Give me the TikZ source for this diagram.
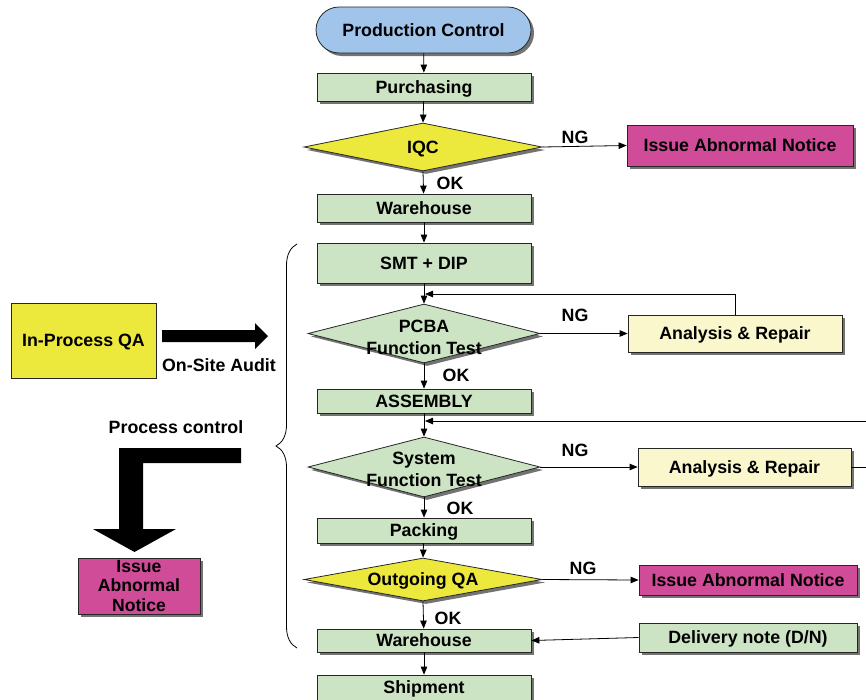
\documentclass[tikz,border=0pt]{standalone}
\usepackage{fontspec}
\setmainfont{Liberation Sans}
\usetikzlibrary{shapes.geometric,shadows,arrows.meta,decorations.pathreplacing}
\definecolor{cblue}{HTML}{A0C4EA}
\definecolor{cgreen}{HTML}{CCE4C4}
\definecolor{cyellow}{HTML}{ECE83C}
\definecolor{cmag}{HTML}{D04C98}
\definecolor{cpale}{HTML}{FAF7CC}
\begin{document}
\begin{tikzpicture}[x=1pt,y=-1pt,
  font=\fontsize{17.8}{21}\selectfont\bfseries,
  shad/.style={drop shadow={shadow xshift=3pt,shadow yshift=-3pt,fill=black!55,opacity=1}},
  mid/.style={text height=12.8pt,text depth=0pt},
  box/.style={rectangle,draw=black!85,line width=0.8pt,inner sep=0pt,shad},
  flow/.style={box,mid,fill=cgreen,minimum width=214pt},
  dia/.style={diamond,draw=black!85,line width=0.8pt,inner sep=0pt,shad},
  arr/.style={-{Triangle[length=8pt,width=6.5pt]},line width=0.8pt},
  lbl/.style={inner sep=0pt}]
\useasboundingbox (0,0) rectangle (866,699);

% main column
\node[box,mid,fill=cblue,minimum width=215pt,minimum height=46pt,rounded corners=23pt] (pc) at (423.5,30) {Production Control};
\node[flow,minimum height=28pt] (purch) at (424,87) {Purchasing};
\node[dia,fill=cyellow,minimum width=238pt,minimum height=48pt] (iqc) at (423,147) {};
\node[lbl,mid] at (iqc) {IQC};
\node[box,mid,fill=cmag,minimum width=226pt,minimum height=41pt] (iss1) at (740,145.5) {Issue Abnormal Notice};
\node[flow,minimum height=28pt] (wh1) at (424,208) {Warehouse};
\node[flow,minimum height=40pt] (smt) at (424,263) {SMT + DIP};
\node[dia,fill=cgreen,minimum width=232pt,minimum height=59pt] (pcba) at (424,333.5) {};
\node[lbl,align=center,font=\fontsize{17.8}{22}\selectfont\bfseries] at (424,337) {PCBA\\Function Test};
\node[box,mid,fill=cpale,minimum width=214pt,minimum height=37pt] (ar1) at (735,333.5) {Analysis \& Repair};
\node[flow,minimum height=24pt] (asm) at (424,401) {ASSEMBLY};
\node[dia,fill=cgreen,minimum width=232pt,minimum height=60pt] (sys) at (424,467) {};
\node[lbl,align=center,font=\fontsize{17.8}{22}\selectfont\bfseries] at (424,469.5) {System\\Function Test};
\node[box,mid,fill=cpale,minimum width=213pt,minimum height=38pt] (ar2) at (744.5,467) {Analysis \& Repair};
\node[flow,minimum height=25pt] (pack) at (424,530.5) {Packing};
\node[dia,fill=cyellow,minimum width=238pt,minimum height=43pt] (oqa) at (423,579.5) {};
\node[lbl,mid] at (oqa) {Outgoing QA};
\node[box,mid,fill=cmag,minimum width=218pt,minimum height=30pt] (iss2) at (748,580) {Issue Abnormal Notice};
\node[flow,minimum height=23pt] (wh2) at (424,640.5) {Warehouse};
\node[box,mid,fill=cgreen,minimum width=218pt,minimum height=29pt] (dn) at (748,637.5) {Delivery note (D/N)};
\node[flow,minimum height=25pt] (ship) at (424,687.5) {Shipment};

% connectors
\draw[arr] (pc) -- (purch);
\draw[arr] (purch) -- (iqc.north);
\draw[arr] (iqc.east) -- (iss1.west);
\draw[arr] (iqc.south) -- (wh1);
\draw[arr] (wh1) -- (smt);
\draw[arr] (smt) -- (pcba.north);
\coordinate (j1) at (425,294);
\draw[arr] (ar1.north) |- (j1);
\draw[arr] (pcba.east) -- (ar1.west);
\draw[arr] (pcba.south) -- (asm);
\draw[arr] (asm) -- (sys.north);
\coordinate (j2) at (425,421);
\coordinate (edge) at (872,467);
\draw[arr] (ar2.east) -- (edge) |- (j2);
\draw[arr] (sys.east) -- (ar2.west);
\draw[arr] (sys.south) -- (pack);
\draw[arr] (pack) -- (oqa.north);
\draw[arr] (oqa.east) -- (iss2.west);
\draw[arr] (oqa.south) -- (wh2);
\draw[arr] (dn.west) -- (wh2.east);
\draw[arr] (wh2) -- (ship);

% labels
\node[lbl,mid] at (575,137) {NG};
\node[lbl,mid] at (450,183) {OK};
\node[lbl,mid] at (575,315) {NG};
\node[lbl,mid] at (456,375) {OK};
\node[lbl,mid] at (575,450) {NG};
\node[lbl,mid] at (460,508) {OK};
\node[lbl,mid] at (583,568) {NG};
\node[lbl,mid] at (448,618) {OK};

% left side
\node[rectangle,mid,draw=black!85,line width=0.8pt,fill=cyellow,minimum width=145pt,minimum height=75pt,inner sep=0pt] (ipqa) at (83.5,340.5) {In-Process QA};
\fill[black] (162,330) -- (255,330) -- (255,323) -- (268,336) -- (255,349) -- (255,342) -- (162,342) -- cycle;
\node[lbl,mid] (audit) at (219,365) {On-Site Audit};
\node[lbl,mid] (pctl) at (176,427) {Process control};
\fill[black] (241,448) -- (119,448) -- (119,529) -- (93,529) -- (134.5,552) -- (176,529) -- (143,529) -- (143,463) -- (241,463) -- cycle;
\node[box,fill=cmag,minimum width=122pt,minimum height=56pt,align=center,font=\fontsize{17.6}{19.5}\selectfont\bfseries] (iss3) at (139,586) {Issue\\Abnormal\\Notice};
\draw[decorate,decoration={brace,amplitude=21pt,aspect=0.5},line width=0.8pt] (297,648) -- (297,244);
\end{tikzpicture}
\end{document}
